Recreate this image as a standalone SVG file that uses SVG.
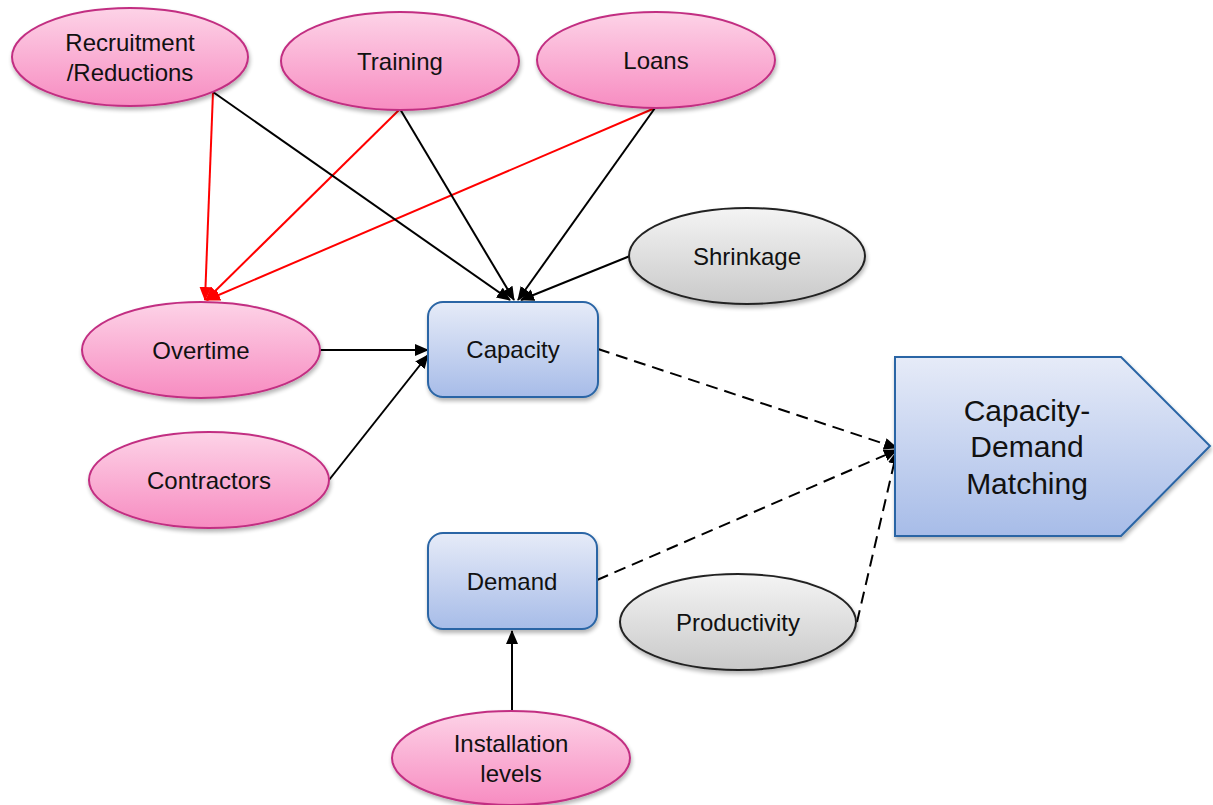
<svg xmlns="http://www.w3.org/2000/svg" width="1213" height="805" viewBox="0 0 1213 805">
  <style>
    .lbl { font-family: "Liberation Sans", Arial, sans-serif; font-size: 24px; fill: #111; text-anchor: middle; }
    .big { font-family: "Liberation Sans", Arial, sans-serif; font-size: 30px; fill: #111; text-anchor: middle; }
    .pink { fill: url(#gPink); stroke: #c22f82; stroke-width: 2; filter: url(#shadow); }
    .grey { fill: url(#gGrey); stroke: #222; stroke-width: 2; filter: url(#shadow); }
    .blue { fill: url(#gBlue); stroke: #2a65a5; stroke-width: 2; filter: url(#shadow); }
    .blk { stroke: #000; stroke-width: 2; fill: none; marker-end: url(#ahBlack); }
    .red { stroke: #f00; stroke-width: 2; fill: none; marker-end: url(#ahRed); }
    .dash { stroke: #000; stroke-width: 2; fill: none; stroke-dasharray: 12 7; marker-end: url(#ahBlack); }
  </style>
  <defs>
    <linearGradient id="gPink" x1="0" y1="0" x2="0" y2="1">
      <stop offset="0" stop-color="#fdd3e7"/>
      <stop offset="1" stop-color="#f78cc1"/>
    </linearGradient>
    <linearGradient id="gGrey" x1="0" y1="0" x2="0" y2="1">
      <stop offset="0" stop-color="#f4f4f4"/>
      <stop offset="1" stop-color="#c9c9c9"/>
    </linearGradient>
    <linearGradient id="gBlue" x1="0" y1="0" x2="0" y2="1">
      <stop offset="0" stop-color="#e6ebf8"/>
      <stop offset="1" stop-color="#a7bce8"/>
    </linearGradient>
    <filter id="shadow" x="-10%" y="-10%" width="125%" height="130%">
      <feGaussianBlur in="SourceAlpha" stdDeviation="2"/>
      <feOffset dx="1" dy="3" result="b"/>
      <feComponentTransfer><feFuncA type="linear" slope="0.3"/></feComponentTransfer>
      <feMerge><feMergeNode/><feMergeNode in="SourceGraphic"/></feMerge>
    </filter>
    <marker id="ahBlack" markerWidth="14" markerHeight="14" refX="13" refY="6" orient="auto" markerUnits="userSpaceOnUse">
      <path d="M0,0 L14,6 L0,12 z" fill="#000"/>
    </marker>
    <marker id="ahRed" markerWidth="14" markerHeight="14" refX="13" refY="6" orient="auto" markerUnits="userSpaceOnUse">
      <path d="M0,0 L14,6 L0,12 z" fill="#f00"/>
    </marker>
  </defs>

  <rect width="1213" height="805" fill="#fff"/>

  <!-- connectors -->
  <g id="connectors">
    <line class="red" x1="213" y1="92" x2="205" y2="300"/>
    <line class="red" x1="400" y1="109" x2="206" y2="300"/>
    <line class="red" x1="655" y1="108" x2="207" y2="300"/>
    <line class="blk" x1="213" y1="92" x2="510" y2="300"/>
    <line class="blk" x1="400" y1="109" x2="514" y2="300"/>
    <line class="blk" x1="655" y1="108" x2="518" y2="300"/>
    <line class="blk" x1="630" y1="256" x2="521" y2="300"/>
    <line class="blk" x1="320" y1="350" x2="428" y2="350"/>
    <line class="blk" x1="329" y1="480" x2="428" y2="355"/>
    <line class="blk" x1="512" y1="711" x2="512" y2="631"/>
    <line class="dash" x1="598" y1="349" x2="897" y2="448"/>
    <line class="dash" x1="597" y1="580" x2="897" y2="450"/>
    <line class="dash" x1="857" y1="622" x2="897" y2="451"/>
  </g>

  <g id="recruitment">
    <ellipse class="pink" cx="130" cy="57" rx="118" ry="49"/>
    <text class="lbl" x="130" y="51">Recruitment</text>
    <text class="lbl" x="130" y="81">/Reductions</text>
  </g>
  <g id="training">
    <ellipse class="pink" cx="400" cy="61" rx="119" ry="49"/>
    <text class="lbl" x="400" y="70">Training</text>
  </g>
  <g id="loans">
    <ellipse class="pink" cx="656" cy="60" rx="119" ry="48"/>
    <text class="lbl" x="656" y="69">Loans</text>
  </g>
  <g id="shrinkage">
    <ellipse class="grey" cx="747" cy="256" rx="118" ry="48"/>
    <text class="lbl" x="747" y="265">Shrinkage</text>
  </g>
  <g id="overtime">
    <ellipse class="pink" cx="201" cy="350" rx="119" ry="48"/>
    <text class="lbl" x="201" y="359">Overtime</text>
  </g>
  <g id="contractors">
    <ellipse class="pink" cx="209" cy="480" rx="120" ry="48"/>
    <text class="lbl" x="209" y="489">Contractors</text>
  </g>
  <g id="capacity">
    <rect class="blue" x="428" y="302" width="170" height="95" rx="15"/>
    <text class="lbl" x="513" y="358">Capacity</text>
  </g>
  <g id="demand">
    <rect class="blue" x="428" y="533" width="169" height="96" rx="15"/>
    <text class="lbl" x="512" y="590">Demand</text>
  </g>
  <g id="productivity">
    <ellipse class="grey" cx="738" cy="622" rx="118" ry="48"/>
    <text class="lbl" x="738" y="631">Productivity</text>
  </g>
  <g id="installation">
    <ellipse class="pink" cx="511" cy="758" rx="119" ry="47"/>
    <text class="lbl" x="511" y="752">Installation</text>
    <text class="lbl" x="511" y="782">levels</text>
  </g>
  <g id="matching">
    <path class="blue" d="M895,357 L1121,357 L1210,446 L1121,536 L895,536 Z"/>
    <text class="big" x="1027" y="421">Capacity-</text>
    <text class="big" x="1027" y="457">Demand</text>
    <text class="big" x="1027" y="494">Matching</text>
  </g>
</svg>
